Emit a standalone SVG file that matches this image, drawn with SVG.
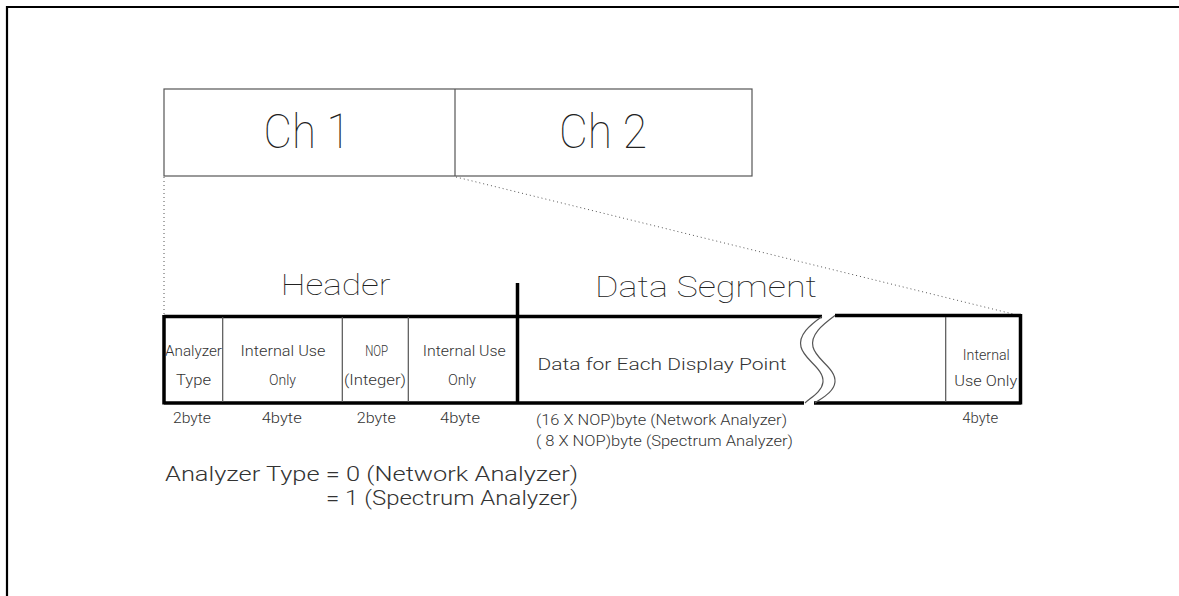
<svg xmlns="http://www.w3.org/2000/svg" width="1179" height="596" viewBox="0 0 1179 596">
<style>
.t{font-family:Roboto,"Liberation Sans",Arial,sans-serif;font-weight:300;fill:#333}
.big{font-weight:100;fill:#222}
.thin{stroke:#555;stroke-width:1.2;fill:none}
.thick{stroke:#000;stroke-width:3.5;fill:none}
.dot{stroke:#555;stroke-width:1;stroke-dasharray:1 3;fill:none}
</style>
<rect width="1179" height="596" fill="#fff"/>
<g id="frame"><path d="M7,596 V7 H1179" stroke="#000" stroke-width="2.2" fill="none"/></g>
<g id="channels">
<rect class="thin" x="164" y="89" width="588" height="87"/>
<line class="thin" x1="455" y1="89" x2="455" y2="176"/>
<text class="t big" x="307" y="148" font-size="48" text-anchor="middle" textLength="87" lengthAdjust="spacingAndGlyphs">Ch 1</text>
<text class="t big" x="603" y="148" font-size="48" text-anchor="middle" textLength="88" lengthAdjust="spacingAndGlyphs">Ch 2</text>
</g>
<g id="connectors">
<line class="dot" x1="164" y1="177" x2="164" y2="315"/>
<line class="dot" x1="456" y1="177" x2="1013" y2="314"/>
</g>
<g id="labels">
<text class="t big" x="335.7" y="295" font-size="29" text-anchor="middle" textLength="110" lengthAdjust="spacingAndGlyphs">Header</text>
<text class="t big" x="706" y="297" font-size="29" text-anchor="middle" textLength="222" lengthAdjust="spacingAndGlyphs">Data Segment</text>
</g>
<g id="record">
<path class="thick" d="M164,316.5 H822 M835,315.5 H1021 M164,403 H804 M814,403 H1021 M164,315 V404.5 M1020.5,314 V404.5 M517.5,283 V404"/>
<path class="thin" d="M222.7,317 V402 M342.3,317 V402 M408.3,317 V402 M945.7,317 V402"/>
<path class="thin" d="M822,316.5 C810,325 798,335 801,347 C804,360 824,368 823,382 C822,392 810,398 805,403"/>
<path class="thin" d="M835,315.5 C822,325 810,335 813,347 C816,360 836,368 835,382 C834,392 822,398 815,403"/>
</g>
<g id="cell-analyzer">
<text class="t" x="193.5" y="356" font-size="15" text-anchor="middle" textLength="57" lengthAdjust="spacingAndGlyphs">Analyzer</text>
<text class="t" x="193.5" y="385" font-size="15" text-anchor="middle" textLength="35" lengthAdjust="spacingAndGlyphs">Type</text>
<text class="t" x="192" y="423" font-size="14" text-anchor="middle" textLength="38" lengthAdjust="spacingAndGlyphs">2byte</text>
</g>
<g id="cell-internal1">
<text class="t" x="283" y="356" font-size="15" text-anchor="middle" textLength="85" lengthAdjust="spacingAndGlyphs">Internal Use</text>
<text class="t" x="282.5" y="385" font-size="15" text-anchor="middle" textLength="27" lengthAdjust="spacingAndGlyphs">Only</text>
<text class="t" x="281.7" y="423" font-size="14" text-anchor="middle" textLength="40" lengthAdjust="spacingAndGlyphs">4byte</text>
</g>
<g id="cell-nop">
<text class="t" x="376.7" y="356" font-size="15" text-anchor="middle" textLength="23" lengthAdjust="spacingAndGlyphs">NOP</text>
<text class="t" x="375" y="385" font-size="15" text-anchor="middle" textLength="62" lengthAdjust="spacingAndGlyphs">(Integer)</text>
<text class="t" x="376.3" y="423" font-size="14" text-anchor="middle" textLength="39" lengthAdjust="spacingAndGlyphs">2byte</text>
</g>
<g id="cell-internal2">
<text class="t" x="464.3" y="356" font-size="15" text-anchor="middle" textLength="83" lengthAdjust="spacingAndGlyphs">Internal Use</text>
<text class="t" x="462" y="385" font-size="15" text-anchor="middle" textLength="28" lengthAdjust="spacingAndGlyphs">Only</text>
<text class="t" x="460" y="423" font-size="14" text-anchor="middle" textLength="40" lengthAdjust="spacingAndGlyphs">4byte</text>
</g>
<g id="cell-data">
<text class="t" x="662" y="370" font-size="16" text-anchor="middle" textLength="249" lengthAdjust="spacingAndGlyphs">Data for Each Display Point</text>
<text class="t" x="536" y="425" font-size="14" textLength="251" lengthAdjust="spacingAndGlyphs">(16 X NOP)byte (Network Analyzer)</text>
<text class="t" x="536" y="446" font-size="14" textLength="257" lengthAdjust="spacingAndGlyphs">( 8 X NOP)byte (Spectrum Analyzer)</text>
</g>
<g id="cell-internal3">
<text class="t" x="986.3" y="360" font-size="15" text-anchor="middle" textLength="47" lengthAdjust="spacingAndGlyphs">Internal</text>
<text class="t" x="985.7" y="386" font-size="15" text-anchor="middle" textLength="63" lengthAdjust="spacingAndGlyphs">Use Only</text>
<text class="t" x="980.3" y="423" font-size="14" text-anchor="middle" textLength="36" lengthAdjust="spacingAndGlyphs">4byte</text>
</g>
<g id="legend">
<text class="t" x="165" y="481" font-size="20" textLength="413" lengthAdjust="spacingAndGlyphs">Analyzer Type = 0 (Network Analyzer)</text>
<text class="t" x="326" y="505" font-size="20" textLength="252" lengthAdjust="spacingAndGlyphs">= 1 (Spectrum Analyzer)</text>
</g>
</svg>
